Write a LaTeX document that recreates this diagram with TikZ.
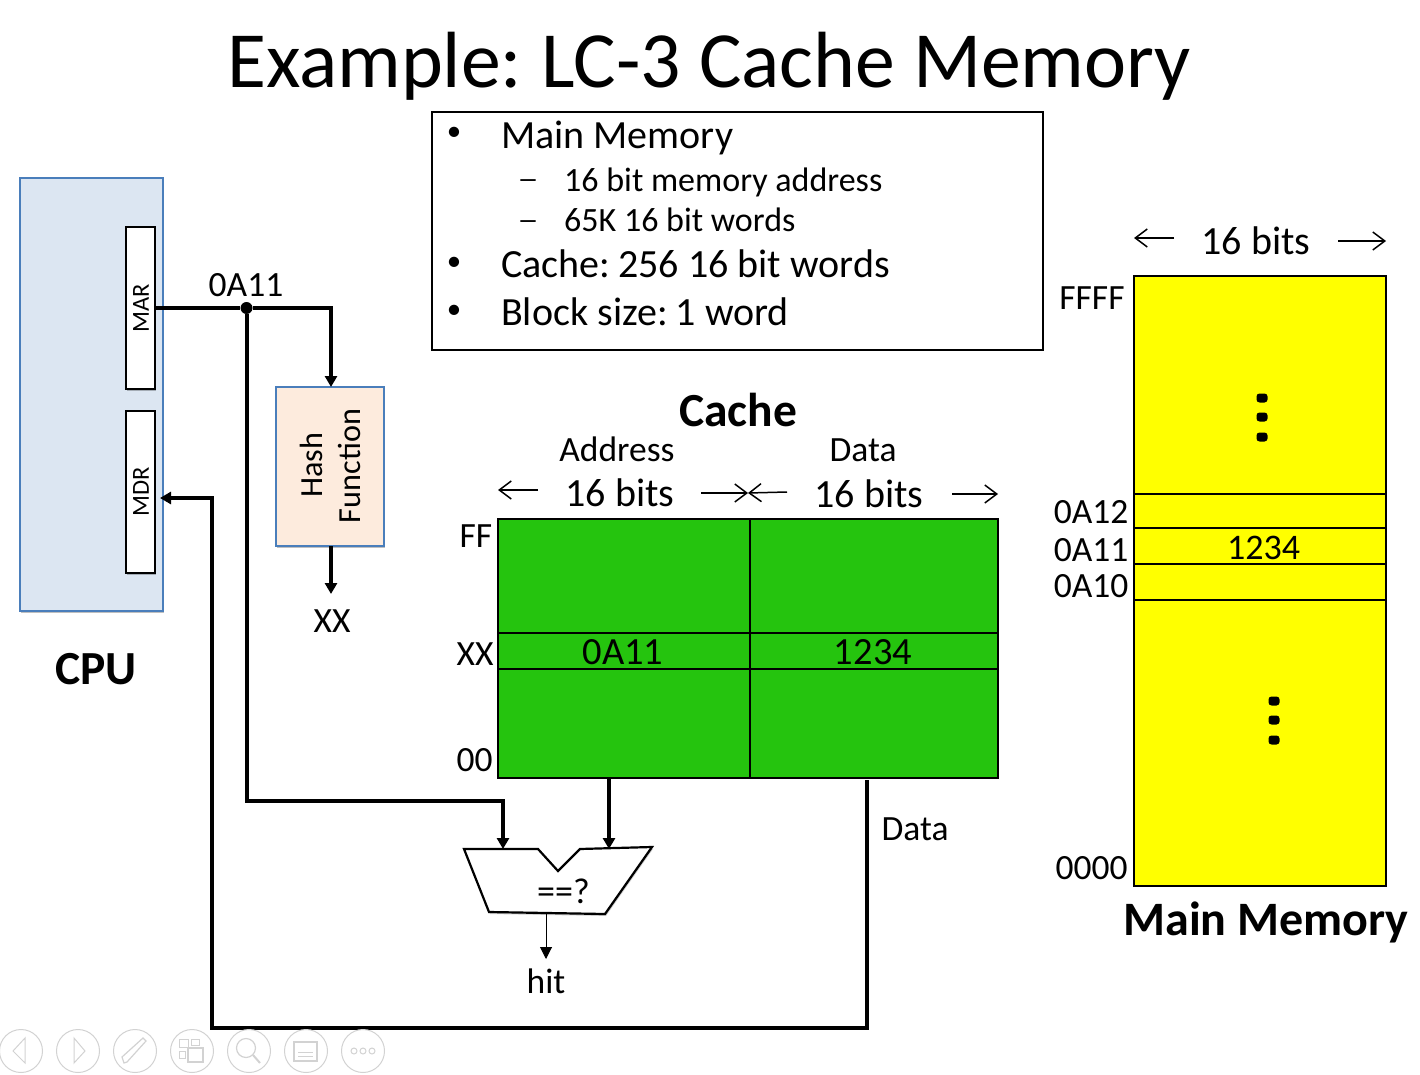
\documentclass[tikz,border=0pt]{standalone}
\usepackage{fontspec}
\setmainfont{Carlito}
\usetikzlibrary{arrows.meta,shadows,positioning}
\definecolor{cpufill}{HTML}{DCE6F2}
\definecolor{blueline}{HTML}{4A7EBB}
\definecolor{hashfill}{HTML}{FDEBDD}
\definecolor{cachegreen}{HTML}{25C40E}
\definecolor{memyellow}{HTML}{FFFF00}
\definecolor{icon}{HTML}{D2D2D2}
\newcommand{\fs}[1]{\fontsize{#1}{#1}\selectfont}
\tikzset{
  softshadow/.style={drop shadow={shadow xshift=1pt,shadow yshift=-2pt,opacity=.25,fill=black}},
  lbl/.style={inner sep=0pt,font=\fs{35.5}},
  bullet/.style={inner sep=0pt,anchor=west,font=\fs{40}},
  subbullet/.style={inner sep=0pt,anchor=west,font=\fs{34}},
  box/.style={draw=black,line width=1.6pt,inner sep=0pt,outer sep=0pt},
  reg/.style={draw=black,line width=2.2pt,fill=white,inner sep=0pt,outer sep=0pt,minimum width=29pt,minimum height=162pt,softshadow},
  wire/.style={draw=black,line width=4pt},
  wirearrow/.style={wire,-{Triangle[length=11pt,width=12pt]}},
  thin arrow/.style={draw=black,line width=1.5pt,-{Straight Barb[length=12pt,width=18pt]}},
  dotmark/.style={circle,fill=black,inner sep=0pt,minimum size=12pt},
  icn/.style={draw=icon,line width=1pt},
}
\begin{document}
\begin{tikzpicture}[x=1pt,y=-1pt]
\useasboundingbox (0,0) rectangle (1420,1075);
\node[inner sep=0pt,font=\fs{79.7}] (title) at (709,66) {Example:\kern-5pt{} LC-3 Cache Memory};
% bullet box
\node[box,fill=white,minimum width=611pt,minimum height=238pt] (infobox) at (737.5,231) {};
\foreach \y/\by/\t/\n in {138/134/Main Memory/a,264/264/{Cache:\kern-4pt{} 256 16 bit words}/b,312/312/{Block size:\kern-4pt{} 1 word}/c}{
  \node[inner sep=0pt,font=\fs{29}] (bu\n) at (454,\by) {•};
  \node[bullet] (t\n) at (501,\y) {\t};
}
\foreach \y/\dy/\t/\n in {182/183/{16 bit memory address}/a,220/224/{65K 16 bit words}/b}{
  \node[inner sep=0pt,font=\bfseries\fs{21}] (da\n) at (528,\dy) {—};
  \node[subbullet] (s\n) at (564,\y) {\t};
}
% CPU
\node[draw=blueline,line width=1.6pt,fill=cpufill,minimum width=143pt,minimum height=433pt,inner sep=0pt,outer sep=0pt,softshadow] (cpu) at (91.5,394.5) {};
\node[reg] (mar) at (140.5,308) {};
\node[reg] (mdr) at (140.5,492) {};
\node[inner sep=0pt,font=\fs{24.5},rotate=90] (marl) at (141,308) {MAR};
\node[inner sep=0pt,font=\fs{24.5},rotate=90] (mdrl) at (141,492) {MDR};
\node[inner sep=0pt,font=\bfseries\fs{47.5}] (cpul) at (96,669) {CPU};
% Hash
\node[draw=blueline,line width=1.6pt,fill=hashfill,minimum width=108pt,minimum height=159pt,inner sep=0pt,outer sep=0pt,softshadow] (hash) at (330,466.5) {};
\node[inner sep=0pt,font=\fs{32.2},rotate=90] (hash1) at (311,465) {Hash};
\node[inner sep=0pt,font=\fs{32.2},rotate=90] (hash2) at (349,466) {Function};
\node[inner sep=0pt,font=\fs{35.5}] (xx) at (332,621) {XX};
\node[inner sep=0pt,font=\fs{35.5}] (addr) at (246,285) {0A11};
% cache
\node[inner sep=0pt,font=\bfseries\fs{47.5}] (cachel) at (738,410) {Cache};
\node[box,fill=cachegreen,minimum width=252pt,minimum height=259pt,anchor=north west] (cacheA) at (498,519) {};
\node[box,fill=cachegreen,minimum width=248pt,minimum height=259pt,anchor=north west] (cacheD) at (750,519) {};
\node[box,minimum width=252pt,minimum height=36pt,anchor=north west] (rowA) at (498,633) {};
\node[box,minimum width=248pt,minimum height=36pt,anchor=north west] (rowD) at (750,633) {};
\node[inner sep=0pt,font=\fs{38.5}] at (rowA.center) [xshift=-1pt,yshift=-1pt] {0A11};
\node[inner sep=0pt,font=\fs{38.5}] at (rowD.center) [xshift=-1pt,yshift=-1pt] {1234};
\node[lbl] (adr) at (617,449) {Address};
\node[lbl] (dat) at (863,450) {Data};
\node[lbl,font=\fs{40}] (b1) at (620,493) {16 bits};
\node[lbl,font=\fs{40}] (b2) at (869,494) {16 bits};
\node[lbl] (ff) at (476,536) {FF};
\node[lbl] (cx) at (475,654) {XX};
\node[lbl] (c0) at (474.5,760) {00};
\coordinate (a1l) at (498,490); \coordinate (a1r) at (538,490);
\coordinate (a2l) at (701,493); \coordinate (a2r) at (748,493);
\coordinate (a3l) at (748,493); \coordinate (a3r) at (787,492);
\coordinate (a4l) at (952,494); \coordinate (a4r) at (998,494);
\draw[thin arrow] (a1r) -- (a1l);
\draw[thin arrow] (a2l) -- (a2r);
\draw[thin arrow] (a3r) -- (a3l);
\draw[thin arrow] (a4l) -- (a4r);
% memory
\node[box,fill=memyellow,minimum width=252pt,minimum height=610pt,anchor=north west] (mem) at (1134,276) {};
\node[box,minimum width=252pt,minimum height=34pt,anchor=north west] (m12) at (1134,494) {};
\node[box,minimum width=252pt,minimum height=36pt,anchor=north west] (m11) at (1134,528) {};
\node[box,minimum width=252pt,minimum height=36pt,anchor=north west] (m10) at (1134,564) {};
\node[inner sep=0pt,font=\fs{36}] at (1263.5,548) {1234};
\node[lbl,font=\fs{40}] (b3) at (1256,241) {16 bits};
\coordinate (a5l) at (1134,238); \coordinate (a5r) at (1174,238);
\coordinate (a6l) at (1338,241); \coordinate (a6r) at (1386,241);
\draw[thin arrow] (a5r) -- (a5l);
\draw[thin arrow] (a6l) -- (a6r);
\node[lbl] (lf) at (1092,298) {FFFF};
\node[lbl] (l12) at (1091,512.5) {0A12};
\node[lbl] (l11) at (1091,550) {0A11};
\node[lbl] (l10) at (1091,586) {0A10};
\node[lbl] (l0) at (1091.5,868) {0000};
\node[inner sep=0pt,font=\bfseries\fs{48}] (meml) at (1266,922) {Main Memory};
\foreach \x/\y in {1262/398,1262/417,1262/437,1274/701,1274/720,1274/740}
  \fill[black,rounded corners=3pt] (\x-5.5,\y-4.5) rectangle (\x+5.5,\y+4.5);
% comparator
\draw[line width=2.2pt,fill=white,line join=miter,drop shadow={shadow xshift=1pt,shadow yshift=-2pt,opacity=.2,fill=black}] (464,849) -- (538,849) -- (558,871) -- (580,849) -- (652,847) -- (605,914) -- (489,912) -- cycle;
\coordinate (cmpL) at (503,849);
\coordinate (cmpR) at (609,849);
\coordinate (cmpB) at (546,913);
\node[inner sep=0pt,font=\fs{36}] (eq) at (563.5,891) {==?};
\node[lbl] (hit) at (546,981) {hit};
\node[lbl] (datal) at (915,829) {Data};
% wires
\node[dotmark] (junc) at (246.5,308) {};
\coordinate (hashtop) at (331,387);
\coordinate (hashbot) at (331,546);
\coordinate (xxtop) at (331,594);
\coordinate (cacheout) at (609,778);
\coordinate (hittop) at (546,959);
\coordinate (dataout) at (867,780);
\coordinate (mdrin) at (160,498);
\draw[wire] (mar.east) -- (junc);
\draw[wirearrow] (junc) -| (hashtop);
\draw[wirearrow] (hashbot) -- (xxtop);
\draw[wirearrow] (junc) |- (cmpL |- 0,801) -- (cmpL);
\draw[wirearrow] (cacheout) -- (cmpR);
\draw[draw=black,line width=1pt,-{Triangle[length=12pt,width=12pt]}] (cmpB) -- (hittop);
\draw[wirearrow] (dataout) |- (212,1028) |- (mdrin);
% toolbar
\foreach \x in {21,78,135,192,249,306,363}
  \draw[icn] (\x,1051) circle (21.5);
\draw[icn] (25,1038) -- (13,1051) -- (25,1063) -- cycle;
\draw[icn] (74,1038) -- (85,1051) -- (74,1063) -- cycle;
\draw[icn,line width=1.2pt] (124,1063) -- (122,1057) -- (143,1038) -- (146,1041) -- (127,1062) -- cycle;
\draw[icn] (179,1039) rectangle (188,1047);
\draw[icn] (191,1039) rectangle (199,1045);
\draw[icn] (179,1051) rectangle (185,1058);
\draw[icn,line width=1.6pt] (188,1048) rectangle (203,1062);
\draw[icn,line width=1.2pt] (246,1048) circle (9.5);
\draw[icn,line width=2pt] (253,1055) -- (260,1063);
\draw[icn,line width=1.2pt] (294,1042) rectangle (317,1061);
\draw[icn] (298,1052) -- (313,1052);
\draw[icn] (298,1056) -- (313,1056);
\foreach \x in {354,363,372}
  \draw[icn] (\x,1051) circle (3);
\end{tikzpicture}
\end{document}
